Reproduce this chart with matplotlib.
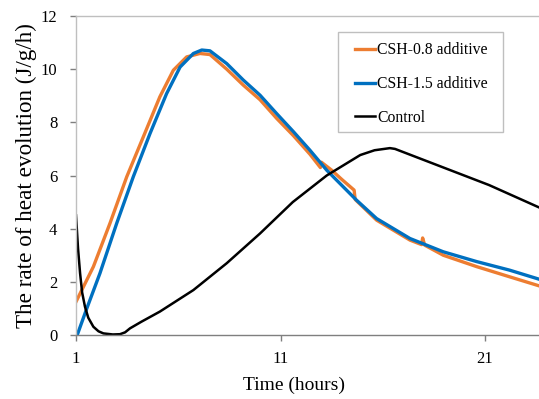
import matplotlib
matplotlib.use("Agg")
import matplotlib.pyplot as plt
from matplotlib.patches import Rectangle

plt.rcParams['font.family'] = ['Liberation Serif', 'DejaVu Serif']

# CSH-0.8 additive (orange)
h_o = [1.0, 1.85, 2.66, 3.48, 4.29, 5.1, 5.76, 6.41, 7.06, 7.55, 8.37, 9.18, 10.0,
       10.81, 11.63, 12.44, 12.95, 13.0, 13.5, 14.0, 14.6, 14.65, 15.7, 17.33,
       17.9, 17.95, 18.05, 18.96, 20.6, 22.2, 23.64]
y_o = [1.25, 2.57, 4.2, 5.95, 7.45, 8.96, 9.96, 10.46, 10.59, 10.55, 10.0, 9.4, 8.85,
       8.15, 7.5, 6.8, 6.3, 6.5, 6.2, 5.85, 5.45, 5.1, 4.32, 3.57,
       3.4, 3.65, 3.38, 3.0, 2.57, 2.19, 1.85]

# CSH-1.5 additive (blue)
h_b = [1.06, 1.5, 2.17, 2.99, 3.8, 4.62, 5.43, 6.09, 6.74, 7.15, 7.55, 8.37, 9.18,
       10.0, 10.81, 11.63, 12.44, 13.26, 14.72, 15.7, 17.33, 18.96, 20.6, 22.2, 23.64]
y_b = [0.0, 0.94, 2.32, 4.2, 5.95, 7.58, 9.08, 10.08, 10.59, 10.72, 10.69, 10.21, 9.59,
       9.02, 8.33, 7.65, 6.95, 6.2, 5.07, 4.38, 3.63, 3.13, 2.76, 2.44, 2.1]

# Control (black)
h_c = [1.0, 1.1, 1.2, 1.3, 1.44, 1.6, 1.85, 2.1, 2.34, 2.8, 3.15, 3.4, 3.64, 4.2,
       5.1, 6.74, 8.37, 10.0, 11.6, 13.26, 14.9, 15.6, 16.35, 16.6, 21.2, 23.64]
y_c = [4.5, 3.25, 2.32, 1.6, 1.06, 0.65, 0.31, 0.14, 0.06, 0.02, 0.03, 0.1, 0.25, 0.5,
       0.88, 1.69, 2.7, 3.82, 5.0, 6.0, 6.77, 6.95, 7.03, 7.0, 5.64, 4.8]

x_ticks = [1, 11, 21]
y_ticks = [0, 2, 4, 6, 8, 10, 12]

labels = ["CSH-0.8 additive", "CSH-1.5 additive", "Control"]
colors = ["#ED7D31", "#0070C0", "#000000"]

W, H = 539, 399
L, B, T = 76, 335, 16  # axes pixel edges
fig = plt.figure(figsize=(W/100, H/100), dpi=100)
ax = fig.add_axes([L/W, (H-B)/H, 1 - L/W, (B-T)/H])
aw, ah = W - L, B - T

def ax_x(px):
    return (px - L) / aw

def ax_y(py):
    return (B - py) / ah

ax.plot(h_o, y_o, color=colors[0], lw=2.4, label=labels[0])
ax.plot(h_b, y_b, color=colors[1], lw=2.4, label=labels[1])
ax.plot(h_c, y_c, color=colors[2], lw=1.8, label=labels[2])

ax.set_xlim(1, 23.64)
ax.set_ylim(0, 12)
ax.set_xticks(x_ticks)
ax.set_yticks(y_ticks)
ax.tick_params(axis='both', labelsize=12, colors='#7F7F7F', labelcolor='black', length=4.5, width=1)
ax.tick_params(axis='x', pad=7)
ax.tick_params(axis='y', pad=9)

ax.spines['right'].set_visible(False)
ax.spines['left'].set_color('#BFBFBF')
ax.spines['top'].set_color('#BFBFBF')
ax.spines['bottom'].set_color('#7F7F7F')
for s in ax.spines.values():
    s.set_linewidth(1.0)

ax.set_xlabel("Time (hours)", fontsize=14)
ax.xaxis.set_label_coords(ax_x(294), ax_y(377))
ax.set_ylabel("The rate of heat evolution (J/g/h)", fontsize=16.7)
ax.yaxis.set_label_coords(ax_x(37), 0.5)

# legend frame
ax.add_patch(Rectangle((ax_x(338), ax_y(132)), ax_x(503) - ax_x(338), ax_y(32) - ax_y(132),
                       transform=ax.transAxes, facecolor='white', edgecolor='#BFBFBF',
                       lw=1.0, zorder=4))
leg = ax.legend(loc='upper left', bbox_to_anchor=(ax_x(355), ax_y(42.5)),
                borderaxespad=0, borderpad=0, fontsize=11.3, handlelength=1.27,
                handletextpad=0.13, labelspacing=1.12, frameon=False)
leg.set_zorder(5)

fig.savefig("out.png", dpi=100)
